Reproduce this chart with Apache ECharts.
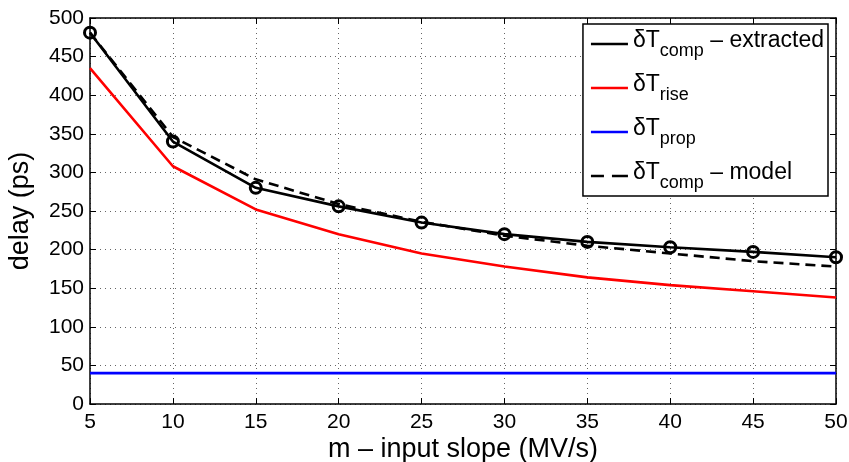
<!DOCTYPE html>
<html><head><meta charset="utf-8">
<script src="https://cdn.jsdelivr.net/npm/echarts@6/dist/echarts.min.js"></script>
<style>html,body{margin:0;padding:0;background:#fff}#c{width:849px;height:462px}</style>
</head><body><div id="c"></div>
<script>
const xVals = [5, 10, 15, 20, 25, 30, 35, 40, 45, 50];
const compExtracted = [481, 340, 280, 256, 235, 220, 210, 203, 197, 190];
const riseVals = [435, 308, 252, 220, 195, 178, 164, 154, 146, 138];
const propVals = [40, 40, 40, 40, 40, 40, 40, 40, 40, 40];
const compModel = [481, 346, 291, 259, 236, 218, 205, 195, 185, 178];
const legendNames = ['extracted', 'rise', 'prop', 'model'];
const legendText = {
  extracted: ['comp', ' \u2013 extracted'],
  rise: ['rise', ''],
  prop: ['prop', ''],
  model: ['comp', ' \u2013 model']
};
const SOLID_ICON = 'path://M0,0H37V2.5H0Z';
const DASH_ICON = 'path://M0,0H13V2.5H0ZM21,0H37V2.5H21Z';
const pair = arr => xVals.map((x, i) => [x, arr[i]]);
const FONT = 'Liberation Sans';
const chart = echarts.init(document.getElementById('c'));
const axisCommon = {
  axisLine: {show: true, onZero: false, lineStyle: {color: '#000', width: 1.5}},
  axisTick: {show: true, inside: true, length: 6, lineStyle: {color: '#000', width: 1}},
};
chart.setOption({
  animation: false,
  backgroundColor: '#fff',
  textStyle: {fontFamily: FONT},
  grid: {left: 90, right: 13, top: 18, bottom: 58, show: false, containLabel: false, outerBoundsMode: 'none'},
  legend: {
    show: true,
    orient: 'vertical',
    right: 21, top: 24,
    data: legendNames.map(n => ({name: n, icon: n === 'model' ? DASH_ICON : SOLID_ICON})),
    backgroundColor: '#fff',
    borderColor: '#000', borderWidth: 1.5,
    borderRadius: 0,
    padding: [4, 4, 4, 8],
    itemWidth: 37, itemHeight: 2.5, itemGap: 12,
    formatter: n => '{a|\u03b4T}{s|' + legendText[n][0] + '}' + (legendText[n][1] ? '{a|' + legendText[n][1] + '}' : ''),
    textStyle: {
      fontFamily: FONT, color: '#000',
      rich: {
        a: {fontSize: 23, fontFamily: FONT, color: '#000', lineHeight: 30, verticalAlign: 'top', padding: [0, 0, 8, 0]},
        s: {fontSize: 18, fontFamily: FONT, color: '#000', lineHeight: 30, padding: [14, 0, 0, 0]}
      }
    }
  },
  xAxis: [{
    type: 'value', min: 5, max: 50, interval: 5, position: 'bottom',
    ...axisCommon,
    axisLabel: {color: '#000', fontSize: 21, fontFamily: FONT, margin: 8},
    splitLine: {show: true, lineStyle: {color: '#666', type: [1, 4], width: 1}},
    name: 'm \u2013 input slope (MV/s)', nameLocation: 'middle', nameGap: 32, nameMoveOverlap: false,
    nameTextStyle: {color: '#000', fontSize: 27, fontFamily: FONT}
  }, {
    type: 'value', min: 5, max: 50, interval: 5, position: 'top',
    ...axisCommon, axisLabel: {show: false}, splitLine: {show: false}
  }],
  yAxis: [{
    type: 'value', min: 0, max: 500, interval: 50, position: 'left',
    ...axisCommon,
    axisLabel: {color: '#000', fontSize: 21, fontFamily: FONT, margin: 6},
    splitLine: {show: true, lineStyle: {color: '#666', type: [1, 4], width: 1}},
    name: 'delay (ps)', nameLocation: 'middle', nameGap: 56, nameMoveOverlap: false,
    nameTextStyle: {color: '#000', fontSize: 27, fontFamily: FONT}
  }, {
    type: 'value', min: 0, max: 500, interval: 50, position: 'right',
    ...axisCommon, axisLabel: {show: false}, splitLine: {show: false}
  }],
  series: [
    {name: 'extracted', type: 'line', data: pair(compExtracted), symbol: 'none',
     lineStyle: {color: '#000', width: 2.6}, itemStyle: {color: '#000'}, z: 5},
    {name: 'rise', type: 'line', data: pair(riseVals), symbol: 'none',
     lineStyle: {color: '#ff0000', width: 2.6}, itemStyle: {color: '#ff0000'}},
    {name: 'prop', type: 'line', data: pair(propVals), symbol: 'none',
     lineStyle: {color: '#0000ff', width: 2.6}, itemStyle: {color: '#0000ff'}},
    {name: 'model', type: 'line', data: pair(compModel), symbol: 'none',
     lineStyle: {color: '#000', width: 2.6, type: [10, 6]}, itemStyle: {color: '#000'}},
    {name: 'markers', type: 'scatter', data: pair(compExtracted), symbol: 'circle', symbolSize: 11,
     itemStyle: {color: 'rgba(255,255,255,0)', borderColor: '#000', borderWidth: 3, opacity: 1}, z: 6}
  ]
});
</script></body></html>
